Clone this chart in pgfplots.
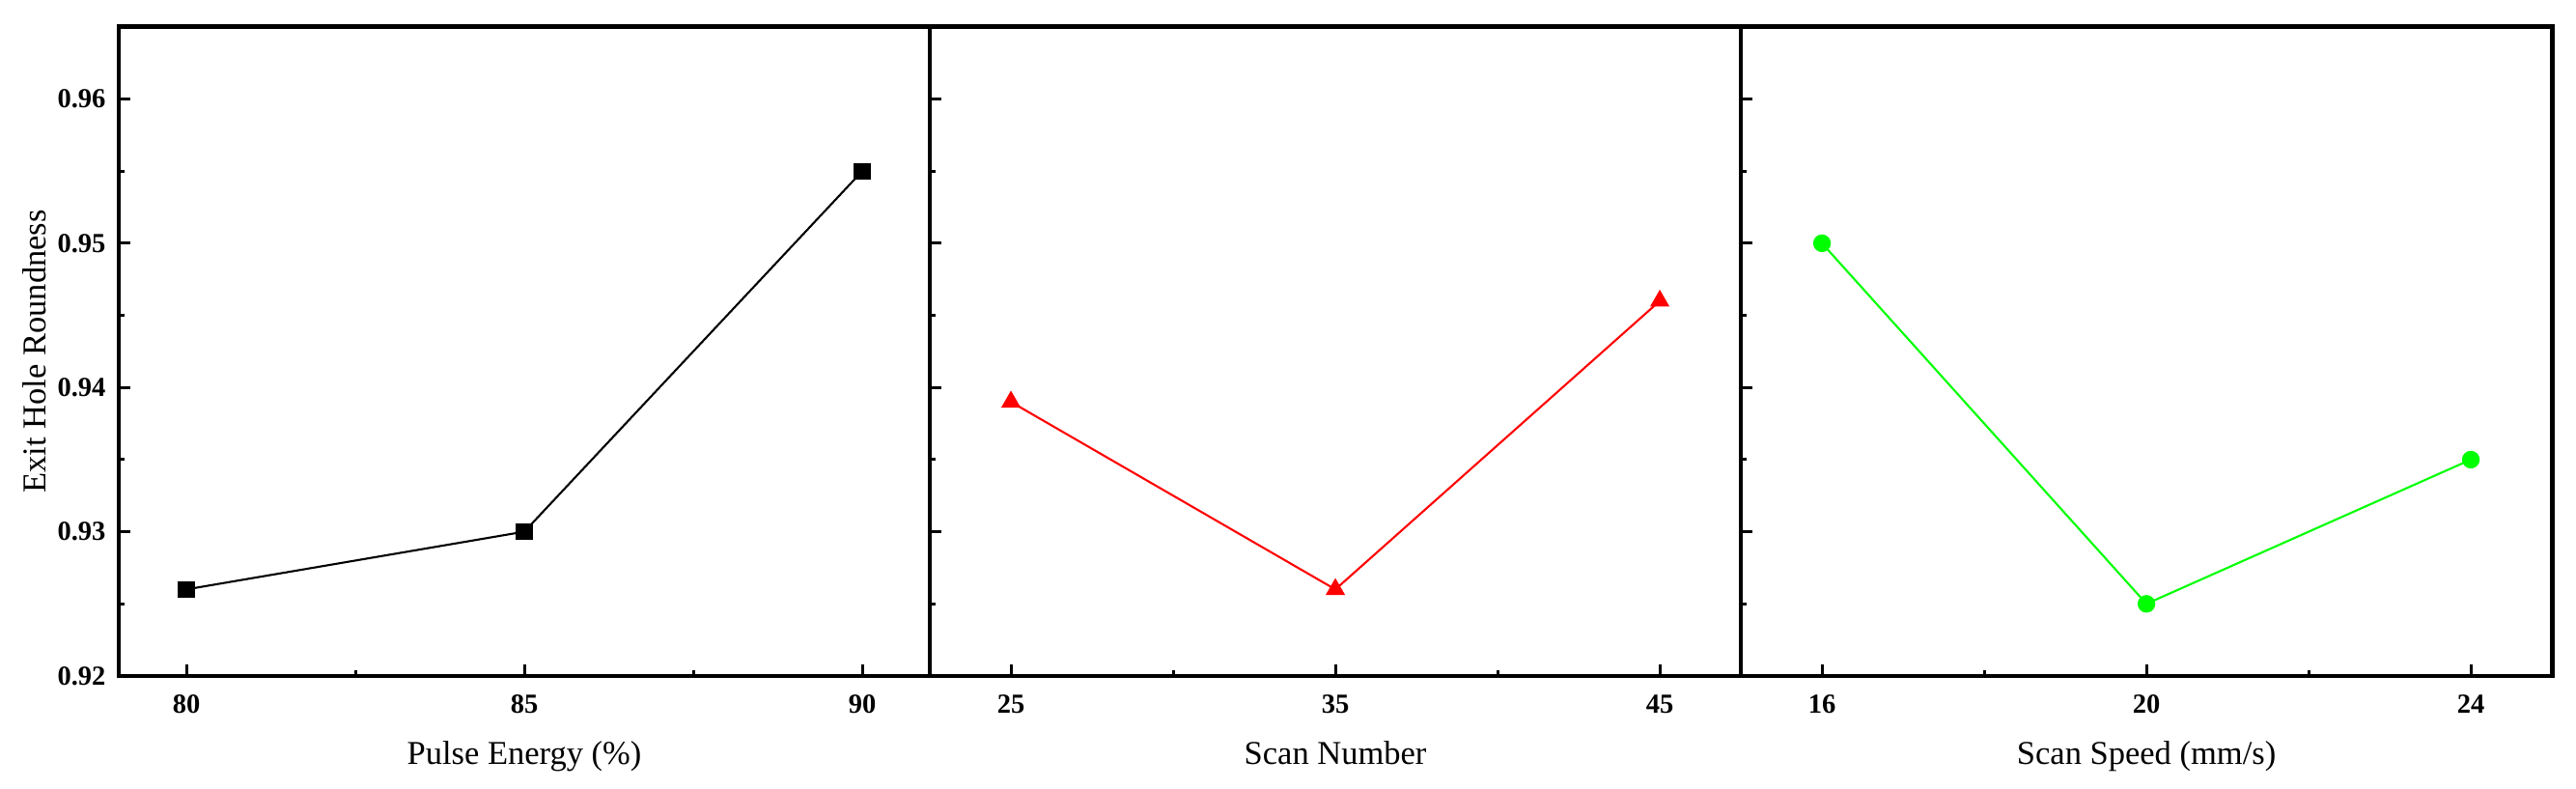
\documentclass[border=0pt]{standalone}
\usepackage{fontspec}
\setmainfont{Liberation Serif}
\usepackage{pgfplots}
\pgfplotsset{compat=1.18}
\definecolor{pgreen}{RGB}{0,255,0}
\definecolor{pred}{RGB}{255,0,0}
\pgfplotsset{
 panel/.style={
   scale only axis, width=280pt, height=224pt,
   ymin=0.92, ymax=0.965,
   ytick={0.92,0.93,0.94,0.95,0.96},
   minor x tick num=1, minor y tick num=1,
   tick align=inside, xtick pos=bottom, ytick pos=left,
   axis line style={line width=1.6pt},
   major tick length=4pt, minor tick length=2pt,
   tick style={black, line width=1pt},
   /pgf/number format/assume math mode=true,
   tick label style={font=\fontsize{9.5}{11}\selectfont\bfseries},
   label style={font=\fontsize{11.5}{13}\selectfont},
   xticklabel style={yshift=-3pt},
   yticklabel style={xshift=-1pt,/pgf/number format/.cd, fixed, fixed zerofill, precision=2},
   xlabel style={at={(axis description cs:0.5,0)}, anchor=base, yshift=-30.6pt},
   ylabel style={at={([xshift=-25.3pt]axis description cs:0,0.5)}, anchor=base},
   clip=false,
 }
}
\begin{document}
\begin{tikzpicture}
\useasboundingbox (-41pt,-39pt) rectangle (848.3pt,233.3pt);
\begin{axis}[panel, at={(0pt,0pt)}, anchor=south west,
  xmin=79, xmax=91, xtick={80,85,90},
  xlabel={Pulse Energy (\%)}, ylabel={Exit Hole Roundness}]
\addplot[black, line width=0.7pt, mark=square*, mark size=2.5pt] coordinates {(80,0.926) (85,0.930) (90,0.955)};
\end{axis}
\begin{axis}[panel, at={(280pt,0pt)}, anchor=south west,
  xmin=22.5, xmax=47.5, xtick={25,35,45}, yticklabels={},
  xlabel={Scan Number}]
\addplot[pred, line width=0.7pt, mark=triangle*, mark size=3.2pt] coordinates {(25,0.939) (35,0.926) (45,0.946)};
\end{axis}
\begin{axis}[panel, at={(560pt,0pt)}, anchor=south west,
  xmin=15, xmax=25, xtick={16,20,24}, yticklabels={},
  xlabel={Scan Speed (mm/s)}]
\addplot[pgreen, line width=0.7pt, mark=*, mark size=2.7pt] coordinates {(16,0.950) (20,0.925) (24,0.935)};
\end{axis}
\end{tikzpicture}
\end{document}
